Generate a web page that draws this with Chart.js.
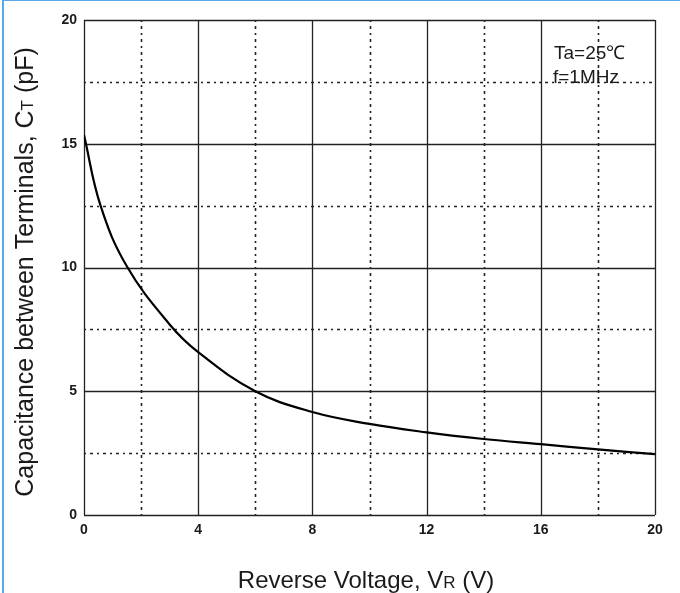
<!DOCTYPE html>
<html>
<head>
<meta charset="utf-8">
<script src="https://cdn.jsdelivr.net/npm/chart.js@4/dist/chart.umd.min.js"></script>
<style>
  html, body { margin: 0; padding: 0; background: #fff; }
  #wrap { position: relative; width: 680px; height: 593px; }
  #edgeTop { position: absolute; left: 2px; top: 0; width: 678px; height: 1px; background: #5aa8ee; }
  #edgeLeft { position: absolute; left: 2px; top: 0; width: 2px; height: 593px; background: #5aa8ee; }
</style>
</head>
<body>
<div id="wrap">
  <canvas id="cvChart" width="680" height="593"></canvas>
  <div id="edgeTop"></div>
  <div id="edgeLeft"></div>
</div>
<script>
// reverse voltage (V) and terminal capacitance (pF)
const voltage = [0, 0.58, 1.5, 3, 4, 6, 8, 10, 12, 14, 16, 18, 20];
const capacitance = [15.35, 12.5, 10.05, 7.7, 6.58, 5.0, 4.16, 3.68, 3.34, 3.07, 2.86, 2.65, 2.46];

// solid (labelled) and dotted grid positions
const xTicks = [0, 4, 8, 12, 16, 20];
const yTicks = [0, 5, 10, 15, 20];
const xDotted = [2, 6, 10, 14, 18];
const yDotted = [2.5, 7.5, 12.5, 17.5];

const noteLines = ['Ta=25\u2103', 'f=1MHz'];

const FONT = '"Liberation Sans", Arial, sans-serif';
const INK = '#1a1a1a';

const gridPlugin = {
  id: 'gridPlugin',
  beforeDatasetsDraw(chart) {
    const { ctx, chartArea: a, scales: { x, y } } = chart;
    ctx.save();
    ctx.strokeStyle = '#222';
    // dotted
    ctx.lineWidth = 1.6;
    ctx.setLineDash([2, 4, 3, 4]);
    xDotted.forEach(v => {
      const px = Math.round(x.getPixelForValue(v)) + 0.5;
      ctx.beginPath(); ctx.moveTo(px, a.top); ctx.lineTo(px, a.bottom); ctx.stroke();
    });
    yDotted.forEach(v => {
      const py = Math.round(y.getPixelForValue(v)) + 0.5;
      ctx.beginPath(); ctx.moveTo(a.left, py); ctx.lineTo(a.right, py); ctx.stroke();
    });
    // solid
    ctx.setLineDash([]);
    ctx.lineWidth = 1.3;
    xTicks.forEach(v => {
      const px = Math.round(x.getPixelForValue(v)) + 0.5;
      ctx.beginPath(); ctx.moveTo(px, a.top); ctx.lineTo(px, a.bottom); ctx.stroke();
    });
    yTicks.forEach(v => {
      const py = Math.round(y.getPixelForValue(v)) + 0.5;
      ctx.beginPath(); ctx.moveTo(a.left, py); ctx.lineTo(a.right, py); ctx.stroke();
    });
    ctx.restore();
  },
  afterDraw(chart) {
    const { ctx } = chart;
    ctx.save();
    ctx.fillStyle = INK;
    ctx.textBaseline = 'alphabetic';

    // x title with subscript
    let big = '24px ' + FONT, small = '17px ' + FONT;
    let parts = [['Reverse Voltage, V', big], ['R', small], [' (V)', big]];
    let w = 0;
    parts.forEach(p => { ctx.font = p[1]; w += ctx.measureText(p[0]).width; });
    let cx = 366 - w / 2;
    parts.forEach(p => { ctx.font = p[1]; ctx.fillText(p[0], cx, 588); cx += ctx.measureText(p[0]).width; });

    // y title with subscript, rotated
    big = '25px ' + FONT; small = '17px ' + FONT;
    parts = [['Capacitance between Terminals, C', big], ['T', small], [' (pF)', big]];
    w = 0;
    parts.forEach(p => { ctx.font = p[1]; w += ctx.measureText(p[0]).width; });
    ctx.translate(33, 272);
    ctx.rotate(-Math.PI / 2);
    cx = -w / 2;
    parts.forEach(p => { ctx.font = p[1]; ctx.fillText(p[0], cx, 0); cx += ctx.measureText(p[0]).width; });
    ctx.restore();

    // conditions note
    ctx.save();
    ctx.fillStyle = INK;
    ctx.font = '19px ' + FONT;
    ctx.fillText(noteLines[0], 554, 59);
    ctx.fillText(noteLines[1], 553, 83);
    ctx.restore();
  }
};

new Chart(document.getElementById('cvChart'), {
  type: 'scatter',
  data: {
    datasets: [{
      data: voltage.map((v, i) => ({ x: v, y: capacitance[i] })),
      showLine: true,
      borderColor: '#000',
      borderWidth: 2.2,
      pointRadius: 0,
      tension: 0.4
    }]
  },
  options: {
    responsive: false,
    animation: false,
    layout: { padding: { top: 20, right: 25, left: 0, bottom: 0 } },
    plugins: { legend: { display: false }, tooltip: { enabled: false } },
    scales: {
      x: {
        type: 'linear', min: 0, max: 20,
        afterFit: s => { s.height = 78; },
        grid: { display: false, drawTicks: false },
        border: { display: false },
        ticks: {
          stepSize: 4, padding: 7, color: INK,
          font: { family: FONT, size: 14, weight: 'bold' }
        }
      },
      y: {
        type: 'linear', min: 0, max: 20,
        afterFit: s => { s.width = 84; },
        grid: { display: false, drawTicks: false },
        border: { display: false },
        ticks: {
          stepSize: 5, padding: 7, color: INK,
          font: { family: FONT, size: 14, weight: 'bold' }
        }
      }
    }
  },
  plugins: [gridPlugin]
});
</script>
</body>
</html>
